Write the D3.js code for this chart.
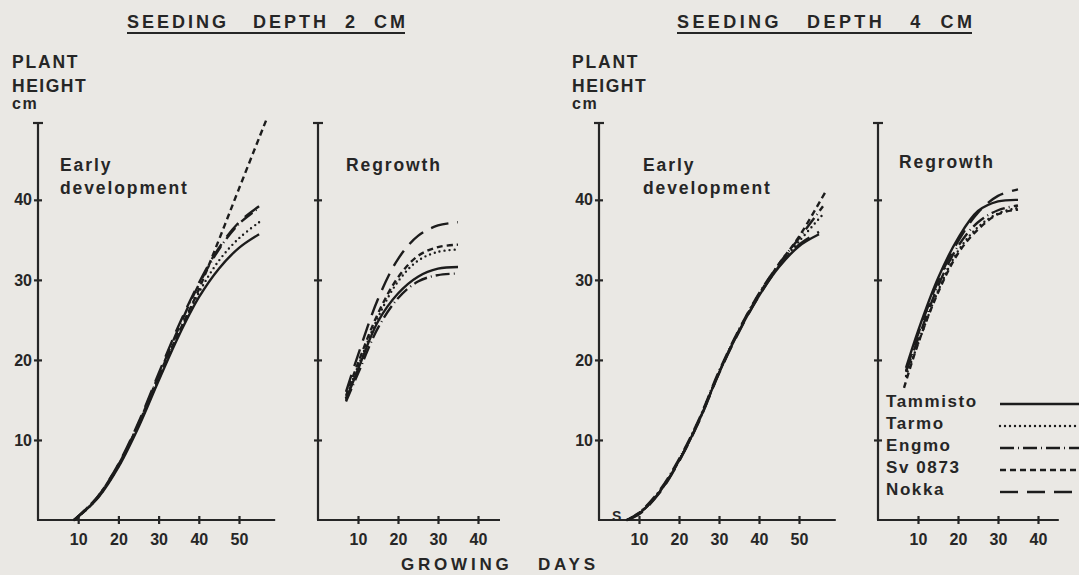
<!doctype html>
<html lang="en">
<head>
  <meta charset="utf-8">
  <title>Plant height, seeding depth 2 and 4 cm</title>
  <script src="https://d3js.org/d3.v7.min.js"></script>
  <style>
    body { margin: 0; background: #eae8e4; }
    svg { display: block; }
    text { font-family: "Liberation Sans", Arial, sans-serif; font-weight: bold; fill: #262626; }
    .axis line, .axis path, .ax { stroke: #262626; stroke-width: 2.2; fill: none; }
    .series { fill: none; stroke: #1c1c1c; stroke-width: 2.4; }
  </style>
</head>
<body>
<script>
  // varieties and line styles (in legend order)
  const varieties = ['Tammisto', 'Tarmo', 'Engmo', 'Sv 0873', 'Nokka'];
  const dashes = ['none', '0,5', '14,4,1,4', '6,4', '18,9'];

  // growing days / plant height (cm)
  // seeding depth 2 cm, early development
  const early2Tammisto = [[9, 0], [12, 1.3], [15, 2.8], [20, 6.6], [25, 11.6], [30, 17.4], [35, 23], [40, 27.8], [45, 31.4], [50, 34], [55, 35.7]];
  const early2Tarmo = [[9, 0], [12, 1.3], [15, 2.9], [20, 6.7], [25, 11.8], [30, 17.6], [35, 23.3], [40, 28.4], [45, 32.4], [50, 35.2], [55, 37.2]];
  const early2Engmo = [[9, 0], [12, 1.4], [15, 3], [20, 6.9], [25, 12], [30, 18], [35, 24], [40, 29.4], [45, 33.8], [50, 37], [55, 39]];
  const early2Sv0873 = [[9, 0], [12, 1.3], [15, 2.9], [20, 6.8], [25, 12], [30, 18], [35, 23.4], [40, 28.8], [45, 35], [50, 41.4], [56.8, 50]];
  const early2Nokka = [[9, 0], [12, 1.4], [15, 3], [20, 7], [25, 12.2], [30, 18.3], [35, 24.3], [40, 29.6], [45, 34], [50, 37.2], [55, 39.2]];

  // seeding depth 2 cm, regrowth
  const regrow2Tammisto = [[7, 15], [10, 18.8], [15, 24.8], [20, 28.3], [25, 30.4], [30, 31.4], [35, 31.6]];
  const regrow2Tarmo = [[7, 15.3], [10, 19.2], [15, 25.3], [20, 29.8], [25, 32.4], [30, 33.5], [35, 33.8]];
  const regrow2Engmo = [[7, 14.8], [10, 18.3], [15, 24], [20, 27.7], [25, 29.8], [30, 30.6], [35, 30.8]];
  const regrow2Sv0873 = [[7, 15.5], [10, 19.6], [15, 25.8], [20, 30.3], [25, 33], [30, 34.1], [35, 34.4]];
  const regrow2Nokka = [[7, 16], [10, 20.6], [15, 27.6], [20, 32.6], [25, 35.5], [30, 36.8], [35, 37.2]];

  // seeding depth 4 cm, early development
  const early4Tammisto = [[7, 0], [10, 0.8], [15, 3.4], [20, 7.4], [25, 12.4], [30, 18.4], [35, 23.6], [40, 28], [45, 31.6], [50, 34.2], [55, 35.7]];
  const early4Tarmo = [[7, 0], [10, 0.9], [15, 3.5], [20, 7.5], [25, 12.5], [30, 18.5], [35, 23.7], [40, 28.2], [45, 31.8], [50, 34.8], [56, 38.2]];
  const early4Engmo = [[7, 0], [10, 0.9], [15, 3.6], [20, 7.6], [25, 12.6], [30, 18.6], [35, 23.8], [40, 28.3], [45, 32], [50, 35.2], [56, 39.2]];
  const early4Sv0873 = [[7, 0], [10, 0.8], [15, 3.4], [20, 7.4], [25, 12.4], [30, 18.4], [35, 23.7], [40, 28.2], [45, 32], [50, 35.4], [56.5, 40.9]];
  const early4Nokka = [[7, 0], [10, 0.7], [15, 3.3], [20, 7.3], [25, 12.3], [30, 18.3], [35, 23.5], [40, 28], [45, 31.7], [50, 34.4], [55, 36]];

  // seeding depth 4 cm, regrowth
  const regrow4Tammisto = [[7, 19], [10, 23.6], [15, 30.2], [20, 35.2], [25, 38.6], [30, 39.8], [35, 40]];
  const regrow4Tarmo = [[7, 18], [10, 22], [15, 28.6], [20, 33.6], [25, 36.6], [30, 38.3], [35, 39]];
  const regrow4Engmo = [[7, 18.5], [10, 22.6], [15, 29.2], [20, 34.2], [25, 37.2], [30, 38.7], [35, 39.3]];
  const regrow4Sv0873 = [[6.5, 16.5], [10, 22], [15, 28.4], [20, 33.3], [25, 36.3], [30, 38.2], [35, 38.8]];
  const regrow4Nokka = [[7, 18.6], [10, 23.2], [15, 29.8], [20, 34.8], [25, 38.4], [30, 40.5], [35, 41.3]];

  const yTicks = [10, 20, 30, 40];
  const yTop = 49.6;

  const width = 1079, height = 575;
  const svg = d3.select('body').append('svg')
    .attr('width', width)
    .attr('height', height);

  svg.append('rect').attr('width', width).attr('height', height).attr('fill', '#eae8e4');

  const y = d3.scaleLinear().domain([0, yTop]).range([520, 123]);

  const panels = [
    { series: [early2Tammisto, early2Tarmo, early2Engmo, early2Sv0873, early2Nokka],
      range: [38, 239], dom: [0, 50], end: 59, xTicks: [10, 20, 30, 40, 50], yLabels: ['10', '20', '30', '40'] },
    { series: [regrow2Tammisto, regrow2Tarmo, regrow2Engmo, regrow2Sv0873, regrow2Nokka],
      range: [318, 478], dom: [0, 40], end: 45.5, xTicks: [10, 20, 30, 40], yLabels: null },
    { series: [early4Tammisto, early4Tarmo, early4Engmo, early4Sv0873, early4Nokka],
      range: [599, 799], dom: [0, 50], end: 59.2, xTicks: [10, 20, 30, 40, 50], yLabels: ['10', '20', '30', '40'] },
    { series: [regrow4Tammisto, regrow4Tarmo, regrow4Engmo, regrow4Sv0873, regrow4Nokka],
      range: [878, 1038], dom: [0, 40], end: 45.2, xTicks: [10, 20, 30, 40], yLabels: null }
  ];

  panels.forEach(p => {
    const x = d3.scaleLinear().domain(p.dom).range(p.range);
    const g = svg.append('g');

    // y axis with crossing ticks
    const yAxis = d3.axisLeft(y).tickValues(yTicks).tickSizeOuter(0)
      .tickFormat((d, i) => p.yLabels ? p.yLabels[i] : '');
    const ya = g.append('g').attr('class', 'axis')
      .attr('transform', `translate(${x(0)},0)`)
      .call(yAxis);
    ya.select('.domain').remove();
    ya.selectAll('.tick line').attr('x1', -4).attr('x2', 4);
    ya.selectAll('.tick text').attr('x', -6).attr('font-size', 16)
      .style('font-family', '"Liberation Sans", Arial, sans-serif').style('font-weight', 'bold').attr('fill', '#262626');
    g.append('line').attr('class', 'ax')
      .attr('x1', x(0)).attr('x2', x(0)).attr('y1', y(0)).attr('y2', y(yTop));
    g.append('line').attr('class', 'ax')
      .attr('x1', x(0) - 5).attr('x2', x(0) + 5).attr('y1', y(yTop)).attr('y2', y(yTop));

    // x axis with crossing ticks
    const xAxis = d3.axisBottom(x).tickValues(p.xTicks).tickSizeOuter(0);
    const xa = g.append('g').attr('class', 'axis')
      .attr('transform', `translate(0,${y(0)})`)
      .call(xAxis);
    xa.select('.domain').remove();
    xa.selectAll('.tick line').attr('y1', -4).attr('y2', 4);
    xa.selectAll('.tick text').attr('y', 14).attr('font-size', 16)
      .style('font-family', '"Liberation Sans", Arial, sans-serif').style('font-weight', 'bold').attr('fill', '#262626');
    g.append('line').attr('class', 'ax')
      .attr('x1', x(0) - 1).attr('x2', x(p.end)).attr('y1', y(0)).attr('y2', y(0));

    const line = d3.line()
      .x(d => x(d[0]))
      .y(d => y(d[1]))
      .curve(d3.curveCatmullRom.alpha(0.5));

    g.selectAll('path.series')
      .data(p.series)
      .join('path')
      .attr('class', 'series')
      .attr('d', line)
      .attr('stroke-dasharray', (d, i) => dashes[i])
      .attr('stroke-linecap', (d, i) => i === 1 ? 'round' : 'butt');
  });

  // titles
  const titles = [
    { text: 'SEEDING   DEPTH  2  CM', x: 127, len: 278 },
    { text: 'SEEDING   DEPTH   4  CM', x: 677, len: 295 }
  ];
  titles.forEach(t => {
    svg.append('text')
      .attr('x', t.x).attr('y', 28)
      .attr('font-size', 18)
      .attr('textLength', t.len).attr('lengthAdjust', 'spacing')
      .style('white-space', 'pre')
      .text(t.text);
    svg.append('line').attr('class', 'ax')
      .attr('x1', t.x).attr('x2', t.x + t.len)
      .attr('y1', 33).attr('y2', 33);
  });

  // y-axis titles
  [12, 572].forEach(x0 => {
    svg.append('text').attr('x', x0).attr('y', 68).attr('font-size', 17.5).attr('letter-spacing', 1.8).text('PLANT');
    svg.append('text').attr('x', x0).attr('y', 92).attr('font-size', 17.5).attr('letter-spacing', 1.5).text('HEIGHT');
    svg.append('text').attr('x', x0).attr('y', 109).attr('font-size', 16).attr('letter-spacing', 1.5).text('cm');
  });

  // panel titles
  const panelTitles = [
    { lines: ['Early', 'development'], x: 60, y: 171 },
    { lines: ['Regrowth'], x: 346, y: 171 },
    { lines: ['Early', 'development'], x: 643, y: 171 },
    { lines: ['Regrowth'], x: 899, y: 168 }
  ];
  panelTitles.forEach(t => {
    t.lines.forEach((s, i) => {
      svg.append('text').attr('x', t.x).attr('y', t.y + i * 23)
        .attr('font-size', 17.5).attr('letter-spacing', 1.9).text(s);
    });
  });

  // stray mark near origin of 4 cm panel
  svg.append('text').attr('x', 612).attr('y', 521).attr('font-size', 14).text('S');

  // x title
  svg.append('text').attr('x', 401).attr('y', 570)
    .attr('font-size', 17).attr('textLength', 194).attr('lengthAdjust', 'spacing')
    .style('white-space', 'pre')
    .text('GROWING   DAYS');

  // legend
  const legendY = d3.scalePoint().domain(varieties).range([407, 495]);
  const leg = svg.append('g');
  leg.selectAll('text')
    .data(varieties)
    .join('text')
    .attr('x', 886)
    .attr('y', d => legendY(d))
    .attr('font-size', 17)
    .attr('letter-spacing', 1.6)
    .text(d => d);
  leg.selectAll('line')
    .data(varieties)
    .join('line')
    .attr('class', 'series')
    .attr('x1', 1000).attr('x2', 1079)
    .attr('y1', d => legendY(d) - 3).attr('y2', d => legendY(d) - 3)
    .attr('stroke-dasharray', (d, i) => dashes[i])
    .attr('stroke-linecap', (d, i) => i === 1 ? 'round' : 'butt');
</script>
</body>
</html>
